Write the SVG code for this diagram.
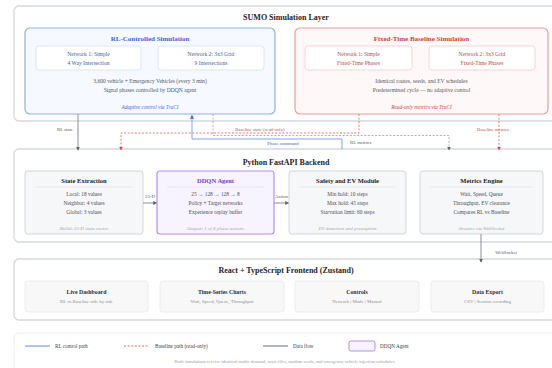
<svg xmlns="http://www.w3.org/2000/svg" width="552" height="368" viewBox="0 0 552 368">
<style>
text{font-family:"Liberation Serif","Times New Roman",serif;}
.layer{fill:#fff;stroke:#d4d8de;stroke-width:1.3;}
.ltitle{font-size:8px;font-weight:bold;fill:#1f2329;text-anchor:middle;}
.rlbox{fill:#f6f9ff;stroke:#8cb0f7;stroke-width:1.2;}
.rlin{fill:#fff;stroke:#d3e0fa;stroke-width:0.8;}
.rltitle{font-size:7px;font-weight:bold;fill:#3d63dd;text-anchor:middle;}
.blbox{fill:#fff8f8;stroke:#ee9a9a;stroke-width:1.2;}
.blin{fill:#fff;stroke:#f5cccc;stroke-width:0.8;}
.bltitle{font-size:7px;font-weight:bold;fill:#cf3f3f;text-anchor:middle;}
.body{font-size:5.6px;fill:#555a61;text-anchor:middle;}
.rlt{font-size:5.6px;fill:#3f5fa8;text-anchor:middle;}
.blt{font-size:5.6px;fill:#c24848;text-anchor:middle;}
.itb{font-size:5.3px;font-style:italic;fill:#4a70e0;text-anchor:middle;}
.itr{font-size:5.3px;font-style:italic;fill:#cf4444;text-anchor:middle;}
.card{fill:#f6f7f8;stroke:#d2d5da;stroke-width:1;}
.ddqn{fill:#f8f4ff;stroke:#b48ef5;stroke-width:1.2;}
.ctitle{font-size:6.5px;font-weight:bold;fill:#1f2329;text-anchor:middle;}
.dtitle{font-size:6.5px;font-weight:bold;fill:#6b3fd4;text-anchor:middle;}
.sep{stroke:#e4e6ea;stroke-width:0.8;}
.sepp{stroke:#e6dcfb;stroke-width:0.8;}
.cbody{font-size:5.4px;fill:#4a4f56;text-anchor:middle;}
.cit{font-size:5px;font-style:italic;fill:#a3a7ad;text-anchor:middle;}
.fcard{fill:#f8f8f9;stroke:#e6e8eb;stroke-width:0.8;}
.ftitle{font-size:5.8px;font-weight:bold;fill:#2a2e33;text-anchor:middle;}
.fsub{font-size:4.8px;fill:#8a8f96;text-anchor:middle;}
.lab{font-size:4.8px;fill:#555a61;}
.labr{font-size:4.8px;fill:#d04a4a;}
.labb{font-size:4.8px;fill:#3d63dd;}
.c-gray{fill:none;stroke:#8a8f98;stroke-width:1;}
.c-gdot{fill:none;stroke:#a3a8b0;stroke-width:0.9;stroke-dasharray:2 1.6;}
.c-red{fill:none;stroke:#e46a6a;stroke-width:0.9;stroke-dasharray:2 1.6;}
.c-blue{fill:none;stroke:#7fa3f2;stroke-width:1;}
.leg{font-size:5.2px;fill:#3a3f45;}
.foot{font-size:4.6px;fill:#9a9ea5;text-anchor:middle;}
</style>
<defs>
<marker id="ag" viewBox="0 0 6 6" refX="5" refY="3" markerWidth="4" markerHeight="4" orient="auto"><path d="M0,0 L6,3 L0,6 z" fill="#5f646c"/></marker>
<marker id="ar" viewBox="0 0 6 6" refX="5" refY="3" markerWidth="4" markerHeight="4" orient="auto"><path d="M0,0 L6,3 L0,6 z" fill="#e04848"/></marker>
<marker id="ab" viewBox="0 0 6 6" refX="5" refY="3" markerWidth="4" markerHeight="4" orient="auto"><path d="M0,0 L6,3 L0,6 z" fill="#3d63dd"/></marker>
</defs>
<rect width="552" height="368" fill="#fff"/>

<g id="sumo-layer">
<rect class="layer" x="14" y="6" width="546" height="115" rx="5"/>
<text class="ltitle" x="286" y="20">SUMO Simulation Layer</text>
</g>

<g id="rl-sim">
<rect class="rlbox" x="25" y="28" width="250" height="86" rx="5"/>
<text class="rltitle" x="150" y="40.5">RL-Controlled Simulation</text>
<rect class="rlin" x="36" y="46" width="105" height="24" rx="3"/>
<text class="rlt" x="88.5" y="56">Network 1: Simple</text>
<text class="rlt" x="88.5" y="65">4 Way Intersection</text>
<rect class="rlin" x="158" y="46" width="106" height="24" rx="3"/>
<text class="rlt" x="211" y="56">Network 2: 3x3 Grid</text>
<text class="rlt" x="211" y="65">9 Intersections</text>
<text class="body" x="150" y="83">3,600 vehicle + Emergency Vehicles (every 3 min)</text>
<text class="body" x="150" y="92">Signal phases controlled by DDQN agent</text>
<text class="itb" x="150" y="109">Adaptive control via TraCI</text>
</g>

<g id="baseline-sim">
<rect class="blbox" x="295" y="28" width="253" height="86" rx="5"/>
<text class="bltitle" x="421.5" y="40.5">Fixed-Time Baseline Simulation</text>
<rect class="blin" x="305" y="46" width="107" height="24" rx="3"/>
<text class="blt" x="358.5" y="56">Network 1: Simple</text>
<text class="blt" x="358.5" y="65">Fixed-Time Phases</text>
<rect class="blin" x="429" y="46" width="106" height="24" rx="3"/>
<text class="blt" x="482" y="56">Network 2: 3x3 Grid</text>
<text class="blt" x="482" y="65">Fixed-Time Phases</text>
<text class="body" x="421.5" y="83">Identical routes, seeds, and EV schedules</text>
<text class="body" x="421.5" y="92">Predetermined cycle — no adaptive control</text>
<text class="itr" x="421.5" y="109">Read-only metrics via TraCI</text>
</g>

<g id="backend-layer">
<rect class="layer" x="14" y="149" width="546" height="93" rx="5"/>
<text class="ltitle" x="286" y="165">Python FastAPI Backend</text>
</g>

<g id="state-extraction">
<rect class="card" x="25" y="171" width="118" height="63" rx="3"/>
<text class="ctitle" x="84" y="183">State Extraction</text>
<line class="sep" x1="35" y1="187" x2="133" y2="187"/>
<text class="cbody" x="84" y="196">Local: 18 values</text>
<text class="cbody" x="84" y="205">Neighbor: 4 values</text>
<text class="cbody" x="84" y="213.5">Global: 3 values</text>
<text class="cit" x="84" y="229.5">Builds 25-D state vector</text>
</g>

<g id="ddqn-agent">
<rect class="ddqn" x="157" y="171" width="117" height="63" rx="3"/>
<text class="dtitle" x="215.5" y="183">DDQN Agent</text>
<line class="sepp" x1="167" y1="187" x2="264" y2="187"/>
<text class="cbody" x="215.5" y="196">25 → 128 → 128 → 8</text>
<text class="cbody" x="215.5" y="205">Policy + Target networks</text>
<text class="cbody" x="215.5" y="213.5">Experience replay buffer</text>
<text class="cit" x="215.5" y="229.5">Outputs 1 of 8 phase actions</text>
</g>

<g id="safety-ev">
<rect class="card" x="289" y="171" width="117" height="63" rx="3"/>
<text class="ctitle" x="347.5" y="183">Safety and EV Module</text>
<line class="sep" x1="299" y1="187" x2="396" y2="187"/>
<text class="cbody" x="347.5" y="196">Min hold: 10 steps</text>
<text class="cbody" x="347.5" y="205">Max hold: 45 steps</text>
<text class="cbody" x="347.5" y="213.5">Starvation limit: 60 steps</text>
<text class="cit" x="347.5" y="229.5">EV detection and preemption</text>
</g>

<g id="metrics-engine">
<rect class="card" x="420" y="171" width="123" height="63" rx="3"/>
<text class="ctitle" x="481.5" y="183">Metrics Engine</text>
<line class="sep" x1="430" y1="187" x2="533" y2="187"/>
<text class="cbody" x="481.5" y="196">Wait, Speed, Queue</text>
<text class="cbody" x="481.5" y="205">Throughput, EV clearance</text>
<text class="cbody" x="481.5" y="213.5">Compares RL vs Baseline</text>
<text class="cit" x="481.5" y="229.5">Streams via WebSocket</text>
</g>

<g id="frontend-layer">
<rect class="layer" x="14" y="259" width="546" height="61" rx="5"/>
<text class="ltitle" x="286" y="273">React + TypeScript Frontend (Zustand)</text>
</g>

<g id="live-dashboard">
<rect class="fcard" x="25" y="281" width="123" height="31" rx="3"/>
<text class="ftitle" x="86.5" y="294">Live Dashboard</text>
<text class="fsub" x="86.5" y="303">RL vs Baseline side by side</text>
</g>
<g id="time-series">
<rect class="fcard" x="160" y="281" width="124" height="31" rx="3"/>
<text class="ftitle" x="222" y="294">Time-Series Charts</text>
<text class="fsub" x="222" y="303">Wait, Speed, Queue, Throughput</text>
</g>
<g id="controls">
<rect class="fcard" x="295" y="281" width="124" height="31" rx="3"/>
<text class="ftitle" x="357" y="294">Controls</text>
<text class="fsub" x="357" y="303">Network | Mode | Manual</text>
</g>
<g id="data-export">
<rect class="fcard" x="431" y="281" width="113" height="31" rx="3"/>
<text class="ftitle" x="487.5" y="294">Data Export</text>
<text class="fsub" x="487.5" y="303">CSV | Session recording</text>
</g>

<g id="connectors">
<path class="c-gray" d="M78,114 V150" marker-end="url(#ag)"/>
<text class="lab" x="73" y="131" text-anchor="end">RL state</text>
<path class="c-red" d="M359,114 V133 H121 V150" marker-end="url(#ar)"/>
<text class="labr" x="260" y="131" text-anchor="middle">Baseline state (read-only)</text>
<path class="c-gdot" d="M213,114 V135.5 H449 V150" marker-end="url(#ag)"/>
<text class="lab" x="350" y="144">RL metrics</text>
<path class="c-blue" d="M342,149 V139 H192 V115.5" marker-end="url(#ab)"/>
<text class="labb" x="283" y="144.5" text-anchor="middle">Phase command</text>
<path class="c-red" d="M499,114 V150" marker-end="url(#ar)"/>
<text class="labr" x="493" y="131" text-anchor="middle">Baseline metrics</text>
<path class="c-gray" d="M143,203 H156.5" marker-end="url(#ag)"/>
<text class="lab" x="150" y="197.5" text-anchor="middle">25-D</text>
<path class="c-gray" d="M274,203 H288.5" marker-end="url(#ag)"/>
<text class="lab" x="281.5" y="197.5" text-anchor="middle">Action</text>
<path class="c-gray" d="M481,234 V262" marker-end="url(#ag)"/>
<text class="lab" x="506" y="254" text-anchor="middle">WebSocket</text>
</g>

<g id="legend">
<rect x="14" y="333" width="546" height="45" rx="5" fill="#fff" stroke="#eceef1" stroke-width="1"/>
<line x1="25" y1="346" x2="50" y2="346" stroke="#7fa3f2" stroke-width="1.3"/>
<text class="leg" x="55" y="348">RL control path</text>
<line x1="124" y1="346" x2="148" y2="346" stroke="#e46a6a" stroke-width="1.2" stroke-dasharray="2 1.6"/>
<text class="leg" x="155" y="348">Baseline path (read-only)</text>
<line x1="263" y1="346" x2="288" y2="346" stroke="#8a8f98" stroke-width="1.3"/>
<text class="leg" x="293" y="348">Data flow</text>
<rect x="349" y="341" width="26" height="10" rx="2" fill="#f8f4ff" stroke="#b48ef5" stroke-width="1"/>
<text class="leg" x="380" y="348">DDQN Agent</text>
<text class="foot" x="285" y="362.5">Both simulations receive identical traffic demand, route files, random seeds, and emergency vehicle injection schedules.</text>
</g>
</svg>
